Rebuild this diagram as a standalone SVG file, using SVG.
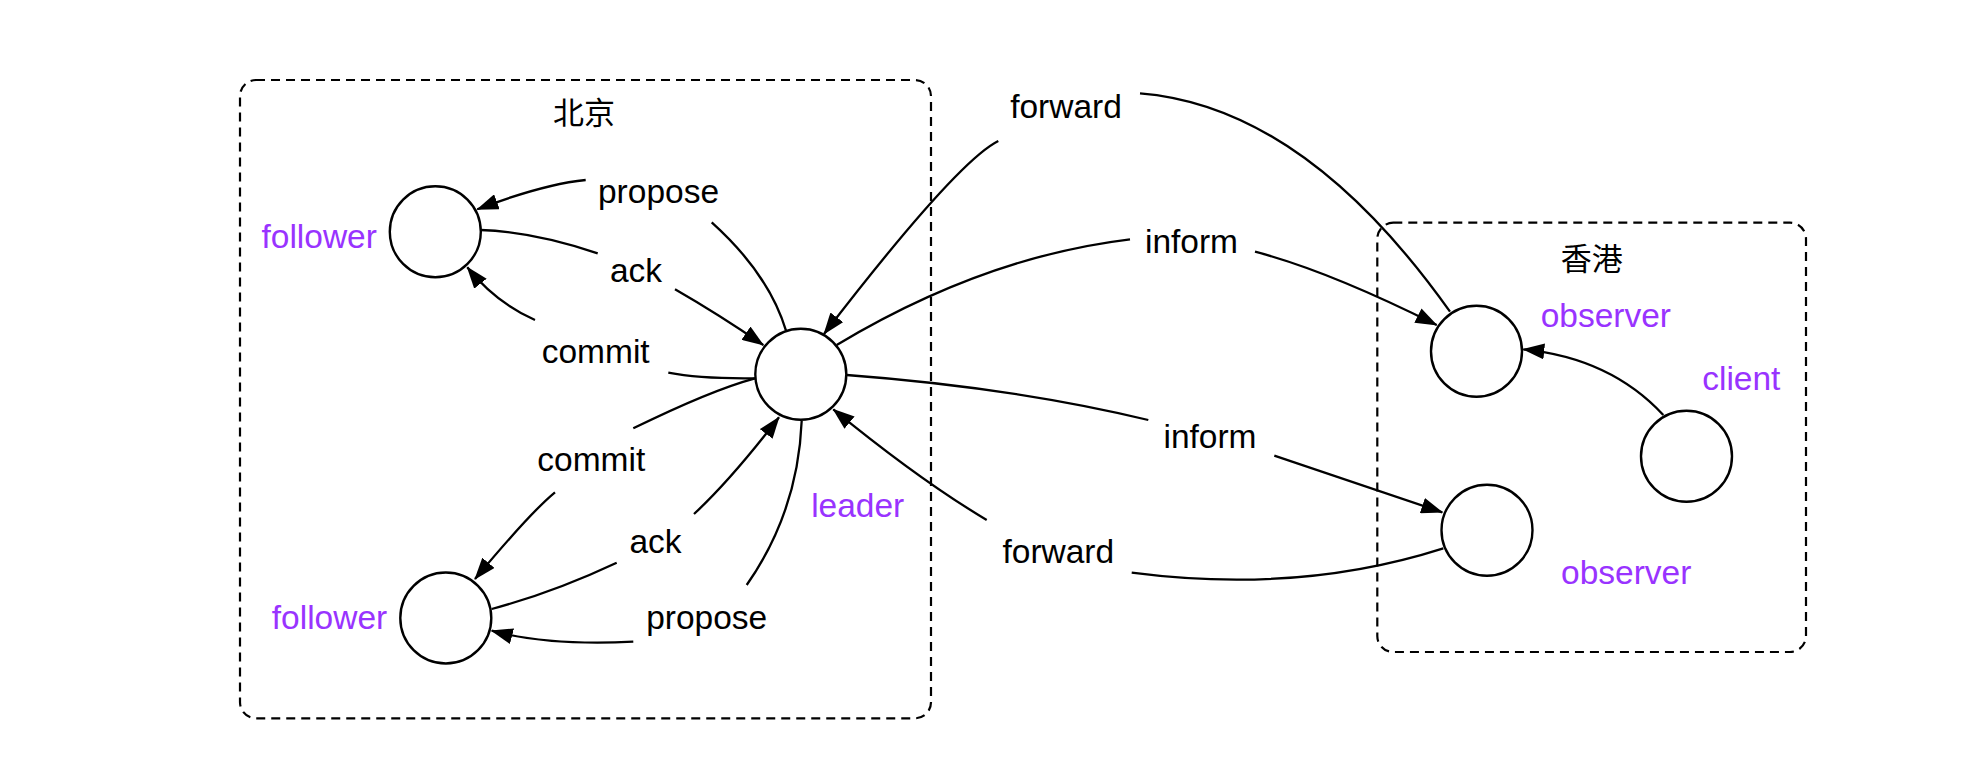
<svg xmlns="http://www.w3.org/2000/svg" width="1984" height="762" viewBox="0 0 1984 762">
<style>
.box{fill:none;stroke:#000;stroke-width:2.2;stroke-dasharray:9 6}
.node{fill:#fff;stroke:#000;stroke-width:2.4}
.edge{fill:none;stroke:#000;stroke-width:2.3}
.lbl{font-family:"Liberation Sans",Arial,Helvetica,sans-serif;font-size:33.5px;fill:#000;text-anchor:middle}
.role{font-family:"Liberation Sans",Arial,Helvetica,sans-serif;font-size:33.5px;fill:#9933FF;text-anchor:middle}
.zone{font-family:"Noto Sans CJK SC","Liberation Sans",sans-serif;font-size:31px;fill:#000;text-anchor:middle}
</style>
<defs>
<marker id="arrow" viewBox="0 0 22 16" markerWidth="22" markerHeight="16" refX="21" refY="8" orient="auto" markerUnits="userSpaceOnUse">
<path d="M0,0 L22,8 L0,16 Z" fill="#000"/>
</marker>
</defs>
<rect width="1984" height="762" fill="#fff"/>
<g id="zone-beijing">
<rect class="box" x="240" y="80" width="691" height="638.3" rx="16" ry="16"/>
<text class="zone" x="584" y="124">北京</text>
</g>
<g id="zone-hongkong">
<rect class="box" x="1377.3" y="222.7" width="428.7" height="429.3" rx="16" ry="16"/>
<text class="zone" x="1591.7" y="270">香港</text>
</g>
<g id="connectors">
<path class="edge" d="M786,330.7 Q769,274 711.7,222.3"/>
<path class="edge" d="M585.7,180 Q543,184.3 477.3,209.3" marker-end="url(#arrow)"/>
<text class="lbl" x="658.5" y="203.3">propose</text>
<path class="edge" d="M480.7,230 Q533.7,231.6 597.7,253.3"/>
<path class="edge" d="M675,289.3 Q718,314 763.3,345" marker-end="url(#arrow)"/>
<text class="lbl" x="636" y="281.7">ack</text>
<path class="edge" d="M755,378.3 Q700,379 668.3,372.7"/>
<path class="edge" d="M535,320 Q496,303 467.3,267.3" marker-end="url(#arrow)"/>
<text class="lbl" x="595.7" y="363.3">commit</text>
<path class="edge" d="M755,378.3 Q711,390.2 633.3,428.3"/>
<path class="edge" d="M555,492.3 Q530.5,512.4 475,579" marker-end="url(#arrow)"/>
<text class="lbl" x="591.3" y="470.7">commit</text>
<path class="edge" d="M491.7,609 Q554,592.2 616.7,562.7"/>
<path class="edge" d="M694,514 Q730.3,480.6 779,417.3" marker-end="url(#arrow)"/>
<text class="lbl" x="655.5" y="552.7">ack</text>
<path class="edge" d="M801.7,420.7 Q798,511.7 746.7,585"/>
<path class="edge" d="M633.3,641.7 Q548.2,646 491.7,630.7" marker-end="url(#arrow)"/>
<text class="lbl" x="706.7" y="629">propose</text>
<path class="edge" d="M1450,311.7 Q1304.4,106.5 1140,93.3"/>
<path class="edge" d="M998.3,141 Q956.3,162 824,334" marker-end="url(#arrow)"/>
<text class="lbl" x="1066" y="118.3">forward</text>
<path class="edge" d="M1443.3,548.3 Q1299,594.5 1131.7,572.7"/>
<path class="edge" d="M986.7,520 Q918.3,479 833.3,409.3" marker-end="url(#arrow)"/>
<text class="lbl" x="1058.3" y="563.3">forward</text>
<path class="edge" d="M836.7,345 Q983.5,256.9 1130,239.3"/>
<path class="edge" d="M1255,251.7 Q1328,270.7 1436.7,325" marker-end="url(#arrow)"/>
<text class="lbl" x="1191.5" y="252.7">inform</text>
<path class="edge" d="M846.7,375 Q1012.5,387.4 1148.3,420"/>
<path class="edge" d="M1274.3,455.7 L1442.3,512.3" marker-end="url(#arrow)"/>
<text class="lbl" x="1210" y="448.3">inform</text>
<path class="edge" d="M1663.3,415 Q1610.5,358 1523.3,349.3" marker-end="url(#arrow)"/>
</g>
<g id="node-follower-top">
<circle class="node" cx="435.3" cy="231.7" r="45.5"/>
<text class="role" x="319.2" y="248.3">follower</text>
</g>
<g id="node-leader">
<circle class="node" cx="800.8" cy="374.2" r="45.5"/>
<text class="role" x="857.7" y="516.7">leader</text>
</g>
<g id="node-follower-bottom">
<circle class="node" cx="445.8" cy="618" r="45.5"/>
<text class="role" x="329.5" y="629.3">follower</text>
</g>
<g id="node-observer-top">
<circle class="node" cx="1476.5" cy="351.3" r="45.5"/>
<text class="role" x="1605.8" y="326.7">observer</text>
</g>
<g id="node-client">
<circle class="node" cx="1686.5" cy="456.2" r="45.5"/>
<text class="role" x="1741.3" y="390">client</text>
</g>
<g id="node-observer-bottom">
<circle class="node" cx="1487" cy="530.3" r="45.5"/>
<text class="role" x="1626.2" y="584">observer</text>
</g>
</svg>
